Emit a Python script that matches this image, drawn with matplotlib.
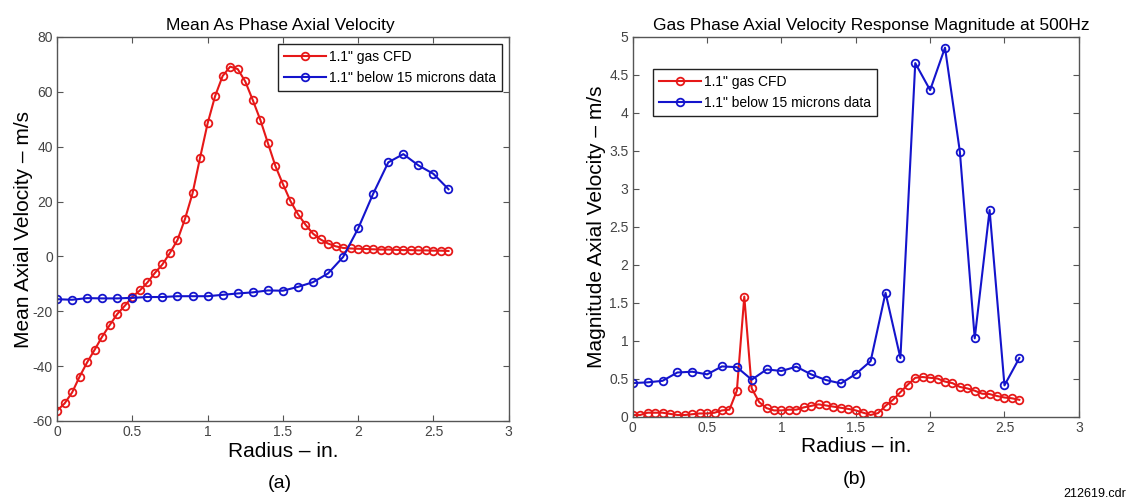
import numpy as np
import matplotlib
matplotlib.use("Agg")
import matplotlib.pyplot as plt

plt.rcParams['font.family'] = ['Liberation Sans', 'DejaVu Sans']
plt.rcParams['axes.unicode_minus'] = False

# ---- data ----
r_cfd = [round(0.05 * i, 2) for i in range(53)]
r_data = [round(0.1 * i, 1) for i in range(27)]

mean_cfd = [-56.2, -53.6, -49.6, -43.8, -38.6, -34.0, -29.2, -25.0, -21.0, -18.0,
            -14.7, -12.4, -9.5, -6.0, -2.9, 1.3, 6.0, 13.7, 23.0, 36.0,
            48.5, 58.5, 65.8, 69.2, 68.3, 63.8, 57.0, 49.8, 41.4, 33.0,
            26.4, 20.2, 15.4, 11.6, 8.3, 6.2, 4.7, 3.7, 3.1, 2.9,
            2.8, 2.7, 2.6, 2.5, 2.5, 2.4, 2.3, 2.3, 2.2, 2.2,
            2.1, 2.1, 2.0]
mean_data = [-15.6, -15.8, -15.2, -15.3, -15.3, -15.1, -14.8, -14.8, -14.5, -14.5,
             -14.5, -14.0, -13.5, -13.1, -12.4, -12.5, -11.1, -9.4, -6.2, -0.2,
             10.2, 22.9, 34.3, 37.3, 33.2, 30.1, 24.5]

mag_cfd = [0.02, 0.02, 0.05, 0.05, 0.05, 0.035, 0.02, 0.02, 0.03, 0.04,
           0.04, 0.05, 0.08, 0.09, 0.34, 1.58, 0.37, 0.19, 0.11, 0.08,
           0.08, 0.09, 0.09, 0.12, 0.14, 0.16, 0.145, 0.13, 0.115, 0.10,
           0.08, 0.05, 0.02, 0.045, 0.14, 0.22, 0.32, 0.42, 0.51, 0.52,
           0.51, 0.50, 0.46, 0.44, 0.39, 0.37, 0.34, 0.30, 0.295, 0.27,
           0.25, 0.24, 0.22]
mag_data = [0.44, 0.45, 0.47, 0.58, 0.59, 0.555, 0.66, 0.65, 0.485, 0.62,
            0.60, 0.656, 0.555, 0.48, 0.436, 0.56, 0.73, 1.63, 0.77, 4.656,
            4.30, 4.86, 3.49, 1.03, 2.72, 0.41, 0.77]

legend_labels = ['1.1" gas CFD', '1.1" below 15 microns data']
xticks = [0, 0.5, 1, 1.5, 2, 2.5, 3]
xticklabels = ['0', '0.5', '1', '1.5', '2', '2.5', '3']
yticks_a = [-60, -40, -20, 0, 20, 40, 60, 80]
yticks_b = [0, 0.5, 1, 1.5, 2, 2.5, 3, 3.5, 4, 4.5, 5]
yticklabels_b = ['0', '0.5', '1', '1.5', '2', '2.5', '3', '3.5', '4', '4.5', '5']

RED = '#e61818'
BLUE = '#1414cc'
GREY = '#555555'

fig = plt.figure(figsize=(11.32, 5.0), dpi=100)
ax1 = fig.add_axes([0.0504, 0.158, 0.399, 0.768])
ax2 = fig.add_axes([0.559, 0.167, 0.394, 0.759])


def style(ax):
    for s in ax.spines.values():
        s.set_color(GREY)
        s.set_linewidth(1.0)
    ax.tick_params(direction='in', top=True, right=True, colors=GREY,
                   labelcolor='#444444', labelsize=10, length=4, pad=3)


kw = dict(marker='o', markersize=5.5, markerfacecolor='none', markeredgewidth=1.3, linewidth=1.5)
legkw = dict(fontsize=10, fancybox=False, framealpha=1, edgecolor='#222222',
             handlelength=3.0, borderpad=0.45, labelspacing=0.5, handletextpad=0.2)

ax1.plot(r_cfd, mean_cfd, color=RED, label=legend_labels[0], **kw)
ax1.plot(r_data, mean_data, color=BLUE, label=legend_labels[1], **kw)
ax1.set_xlim(0, 3)
ax1.set_ylim(-60, 80)
ax1.set_xticks(xticks)
ax1.set_xticklabels(xticklabels)
ax1.set_yticks(yticks_a)
style(ax1)
ax1.set_title('Mean As Phase Axial Velocity', fontsize=12.5, pad=5, x=0.495)
ax1.set_xlabel('Radius \u2013 in.', fontsize=15, labelpad=2)
ax1.set_ylabel('Mean Axial Velocity \u2013 m/s', fontsize=15, labelpad=0)
leg1 = ax1.legend(loc='upper right', borderaxespad=0.5, **legkw)
leg1.get_frame().set_linewidth(1.0)

ax2.plot(r_cfd, mag_cfd, color=RED, label=legend_labels[0], **kw)
ax2.plot(r_data, mag_data, color=BLUE, label=legend_labels[1], **kw)
ax2.set_xlim(0, 3)
ax2.set_ylim(0, 5)
ax2.set_xticks(xticks)
ax2.set_xticklabels(xticklabels)
ax2.set_yticks(yticks_b)
ax2.set_yticklabels(yticklabels_b)
style(ax2)
ax2.set_title('Gas Phase Axial Velocity Response Magnitude at 500Hz', fontsize=12.5, pad=5, x=0.534)
ax2.set_xlabel('Radius \u2013 in.', fontsize=15, labelpad=2)
ax2.set_ylabel('Magnitude Axial Velocity \u2013 m/s', fontsize=15, labelpad=2)
leg2 = ax2.legend(loc='upper left', bbox_to_anchor=(0.045, 0.916), borderaxespad=0.0, **legkw)
leg2.get_frame().set_linewidth(1.0)

fig.text(280 / 1132, 1 - 484 / 500, '(a)', fontsize=14, ha='center', va='center')
fig.text(855 / 1132, 1 - 480 / 500, '(b)', fontsize=14, ha='center', va='center')
fig.text(1126 / 1132, 1 - 494 / 500, '212619.cdr', fontsize=9, ha='right', va='center')

fig.savefig('out.png', dpi=100)
